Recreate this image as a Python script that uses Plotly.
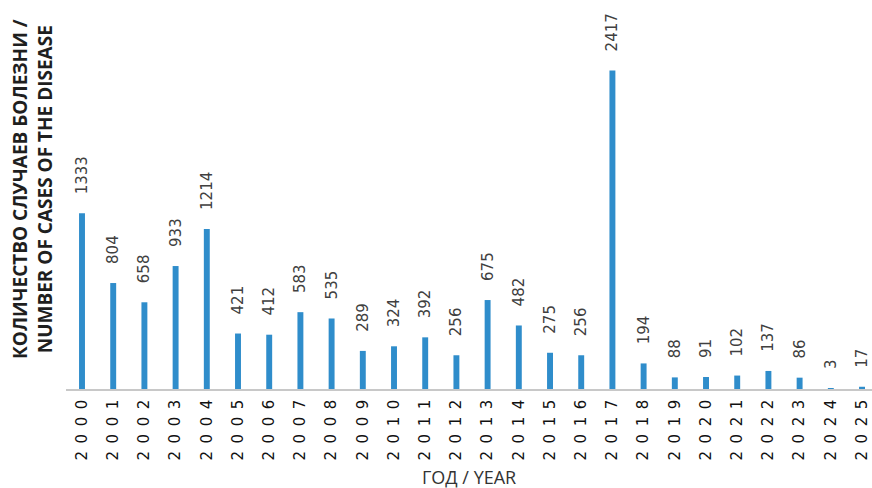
import plotly.graph_objects as go

years = [str(y) for y in range(2000, 2026)]
cases = [1333, 804, 658, 933, 1214, 421, 412, 583, 535, 289, 324, 392, 256,
         675, 482, 275, 256, 2417, 194, 88, 91, 102, 137, 86, 3, 17]
y_title_lines = ["КОЛИЧЕСТВО СЛУЧАЕВ БОЛЕЗНИ /", "NUMBER OF CASES OF THE DISEASE"]
x_title = "ГОД / YEAR"

bar_color = "#2F8DCB"
text_color = "#404040"

tick_text = ["\u2002".join(list(y)) for y in years]
labels = ["\u00a0\u00a0\u00a0\u00a0" + str(v) for v in cases]

fig = go.Figure(go.Bar(
    x=list(range(len(years))), y=cases, text=labels, textposition="outside",
    textangle=-90, cliponaxis=False, width=0.19, constraintext="none",
    marker=dict(color=bar_color, line=dict(width=0)),
    textfont=dict(family="DejaVu Sans", size=15, color=text_color),
))

fig.update_layout(
    width=872, height=488, margin=dict(l=66, r=0, t=19.5, b=99),
    plot_bgcolor="white", paper_bgcolor="white", showlegend=False,
    xaxis=dict(range=[-0.513, 25.32], tickmode="array",
               tickvals=list(range(len(years))), ticktext=tick_text,
               tickangle=-90, showline=True, linecolor="#C8C8C8", linewidth=1.5,
               ticks="", showgrid=False, ticklabelstandoff=3,
               tickfont=dict(family="DejaVu Sans", size=15, color="#111111")),
    yaxis=dict(range=[0, 2800], showticklabels=False, showgrid=False,
               zeroline=False, ticks=""),
)

fig.add_annotation(text="<br>".join(y_title_lines), xref="paper", yref="paper",
                   x=0, y=0.5, xanchor="right", yanchor="middle", xshift=-6,
                   yshift=15, textangle=-90, showarrow=False, align="center",
                   font=dict(family="Open Sans", size=19, color="#1f1f1f", weight="bold"))
fig.add_annotation(text=x_title, xref="paper", yref="paper", x=0.5, y=0,
                   yanchor="middle", yshift=-88, showarrow=False,
                   font=dict(family="Open Sans", size=18, color="#333333"))

fig.write_html("out.html")
